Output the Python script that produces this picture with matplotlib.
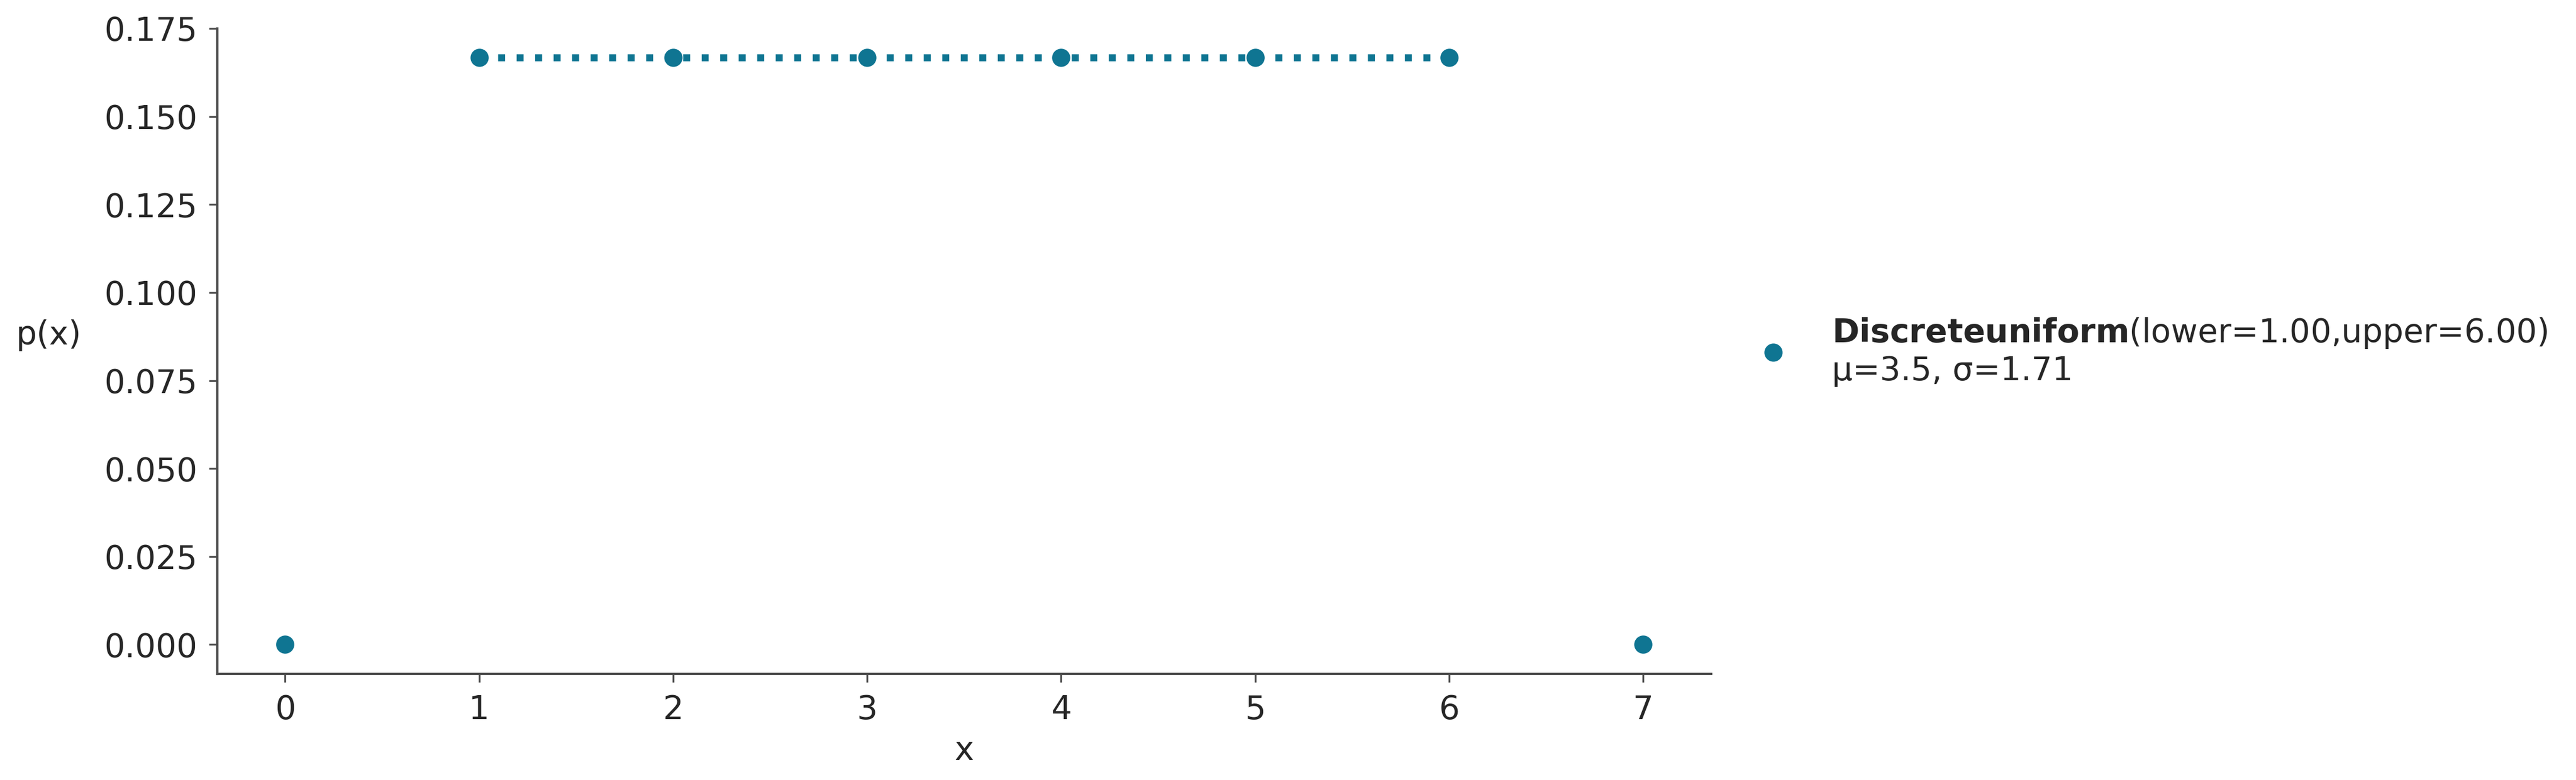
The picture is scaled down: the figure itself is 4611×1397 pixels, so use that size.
import numpy as np
import matplotlib
matplotlib.use("Agg")
import matplotlib.pyplot as plt
from matplotlib import rcParams

rcParams['font.family'] = ['DejaVu Sans']
rcParams['font.size'] = 14
rcParams['text.color'] = '#262626'
rcParams['axes.labelcolor'] = '#262626'
rcParams['xtick.color'] = '#4d4d4d'
rcParams['ytick.color'] = '#4d4d4d'
rcParams['xtick.labelcolor'] = '#262626'
rcParams['ytick.labelcolor'] = '#262626'

# discrete uniform(1, 6) pmf
x_vals = [0, 1, 2, 3, 4, 5, 6, 7]
pmf = [0.0, 0.1667, 0.1667, 0.1667, 0.1667, 0.1667, 0.1667, 0.0]
support = [1, 2, 3, 4, 5, 6]
support_pmf = [0.1667, 0.1667, 0.1667, 0.1667, 0.1667, 0.1667]
label = "$\\bf{Discreteuniform}$(lower=1.00,upper=6.00)\nμ=3.5, σ=1.71"
color = '#0f7592'

fig = plt.figure(figsize=(15.373, 4.657), dpi=300)
ax = fig.add_axes([0.0843, 0.136, 0.5798, 0.8275])

ax.plot(x_vals, pmf, 'o', color=color, markersize=6.8, label=label)
ax.plot(support, support_pmf, ':', color=color, linewidth=3)

ax.set_yticks([0.0, 0.025, 0.05, 0.075, 0.1, 0.125, 0.15, 0.175])
ax.set_ylim(-0.00833, 0.175)
ax.set_xticks(x_vals)

for s in ['top', 'right']:
    ax.spines[s].set_visible(False)
for s in ['left', 'bottom']:
    ax.spines[s].set_color('#4d4d4d')
    ax.spines[s].set_linewidth(1.0)
ax.tick_params(length=3.5, width=0.8, labelsize=14, pad=5)

ax.set_xlabel('x', fontsize=14)
ax.set_ylabel('p(x)', rotation=0, fontsize=14)
ax.yaxis.set_label_coords(-0.1126, 0.5)

ax.legend(loc='center left', bbox_to_anchor=(1, 0.5), frameon=False, fontsize=14)

fig.savefig('out.png', dpi=300)
